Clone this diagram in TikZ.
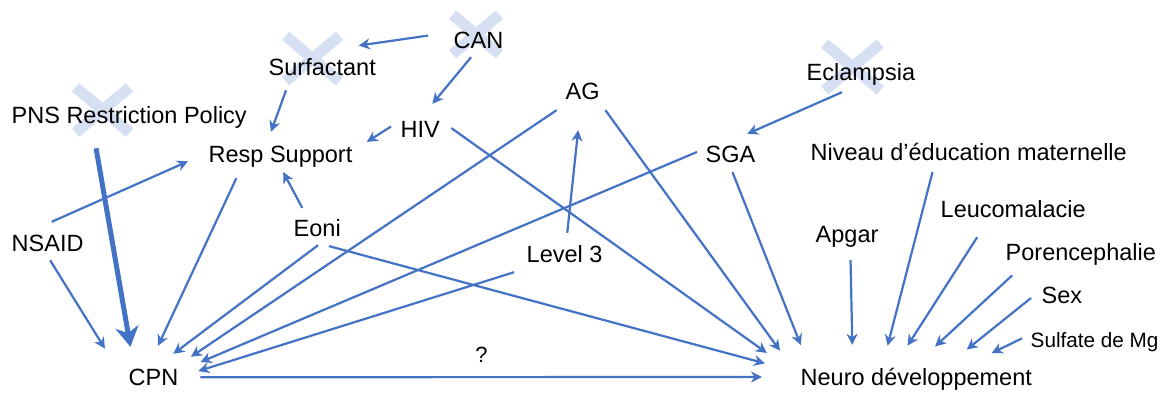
\documentclass[tikz,border=0pt]{standalone}
\usepackage{fontspec}
\setmainfont{Liberation Sans}
\usetikzlibrary{arrows.meta}
\definecolor{lnblue}{RGB}{68,114,196}
\definecolor{crosscol}{RGB}{214,224,242}
\newcommand\lbfont{\fontsize{23.5}{28}\selectfont}
\newcommand\smlfont{\fontsize{20.7}{24}\selectfont}
\newcommand\qfont{\fontsize{22}{26}\selectfont}
\begin{document}
\begin{tikzpicture}[x=1pt,y=-1pt,
  lbl/.style={inner sep=0pt, text height=17pt, text depth=5pt, anchor=base west, font=\lbfont},
  arr/.style={draw=lnblue, line width=2.2pt, -{Stealth[length=11pt,width=11pt,inset=3.5pt]}},
  thickarr/.style={draw=lnblue, line width=5pt, -{Stealth[length=20pt,width=23pt,inset=6pt]}},
  crossline/.style={draw=crosscol, line width=11pt},
  xcross/.pic={\draw[crossline] (-27,-22.6) -- (27,22.6) (-27,22.6) -- (27,-22.6);}
]
\fill[white] (0,0) rectangle (1175,392);
\useasboundingbox (0,0) rectangle (1175,392);

% crossed-out marks
\pic at (312.5,58.5) {xcross};
\pic at (102.5,110) {xcross};
\pic[scale=0.87] at (476,34.5) {xcross};
\pic[scale=1.03] at (852.5,67) {xcross};

% nodes
\node[lbl] (can) at (453.5,48) {CAN};
\node[lbl] (surf) at (268.5,75) {Surfactant};
\node[lbl] (pns) at (11.5,123) {PNS Restriction Policy};
\node[lbl] (resp) at (208.5,162) {Resp Support};
\node[lbl] (hiv) at (400.5,137) {HIV};
\node[lbl] (ag) at (565.5,99) {AG};
\node[lbl] (sga) at (705.5,162) {SGA};
\node[lbl] (ecl) at (806.5,80) {Eclampsia};
\node[lbl] (niv) at (810.5,160) {Niveau d’éducation maternelle};
\node[lbl] (nsaid) at (11.5,251) {NSAID};
\node[lbl] (eoni) at (293.5,236) {Eoni};
\node[lbl] (cpn) at (128.5,385) {CPN};
\node[lbl] (l3) at (526.5,262) {Level 3};
\node[lbl] (apgar) at (815.5,242) {Apgar};
\node[lbl] (leuco) at (940.5,217) {Leucomalacie};
\node[lbl] (poren) at (1005.5,260) {Porencephalie};
\node[lbl] (sex) at (1041.5,303) {Sex};
\node[lbl, font=\smlfont] (sulf) at (1030.5,347) {Sulfate de Mg};
\node[lbl] (neuro) at (800.5,385) {Neuro développement};

% connectors
\draw[arr, shorten <=25.7pt, shorten >=86pt] (can.158.8) -- (surf.167.6);
\draw[arr, shorten <=5.2pt, shorten >=20.8pt] (can.250) -- (hiv.96.7);
\draw[arr, shorten <=10.7pt, shorten >=13.9pt] (surf.199.4) -- (resp.142.4);
\draw[arr, shorten <=11.2pt, shorten >=16.8pt] (hiv.152.4) -- (resp.4.7);
\draw[arr, shorten <=29.7pt, shorten >=22.4pt] (nsaid.154) -- (resp.177.6);
\draw[thickarr, shorten <=20.3pt, shorten >=21.3pt] (pns.197.3) -- (cpn.150.8);
\draw[arr, shorten <=4.7pt, shorten >=44.7pt] (nsaid.270.5) -- (cpn.197.9);
\draw[arr, shorten <=12.2pt, shorten >=24.3pt] (resp.196.1) -- (cpn.117);
\draw[arr, shorten <=12.4pt, shorten >=5.6pt] (eoni.129.9) -- (resp.270);
\draw[arr, shorten <=6.7pt, shorten >=23.3pt] (eoni.299.8) -- (cpn.84.3);
\draw[arr, shorten <=10.7pt, shorten >=19.7pt] (ag.213.5) -- (cpn.28.3);
\draw[arr, shorten <=9.2pt, shorten >=23.8pt] (sga.163) -- (cpn.17.2);
\draw[arr, shorten <=16.8pt, shorten >=20.8pt] (l3.198.8) -- (cpn.4.2);
\draw[arr, shorten <=12.1pt, shorten >=26.1pt] (l3.83.3) -- (ag.261.2);
\draw[arr, shorten <=13.9pt, shorten >=41.3pt] (hiv.29.2) -- (neuro.179.4);
\draw[arr, shorten <=19pt, shorten >=36.8pt] (eoni.240.2) -- (neuro.177.9);
\draw[arr, shorten <=9.4pt, shorten >=34.9pt] (ag.331.1) -- (neuro.180.1);
\draw[arr, shorten <=5.3pt, shorten >=24.5pt] (sga.270) -- (neuro.174.4);
\draw[arr, shorten <=21.9pt, shorten >=38.5pt] (cpn.4.6) -- node[pos=0.487, anchor=base, yshift=15pt, inner sep=0pt, font=\qfont] (q) {?} (neuro.179);
\draw[arr, shorten <=17.3pt, shorten >=27.2pt] (ecl.255.2) -- (sga.126.7);
\draw[arr, shorten <=7.2pt, shorten >=22.8pt] (niv.198.6) -- (neuro.162.6);
\draw[arr, shorten <=13pt, shorten >=23pt] (apgar.286.2) -- (neuro.170.6);
\draw[arr, shorten <=17.9pt, shorten >=26.3pt] (leuco.203.6) -- (neuro.154.8);
\draw[arr, shorten <=14.9pt, shorten >=31.4pt] (poren.191.4) -- (neuro.111.8);
\draw[arr, shorten <=13.4pt, shorten >=29.1pt] (sex.160.2) -- (neuro.22.9);
\draw[arr, shorten <=9.3pt, shorten >=33.8pt] (sulf.174.7) -- (neuro.14.6);
\end{tikzpicture}
\end{document}
